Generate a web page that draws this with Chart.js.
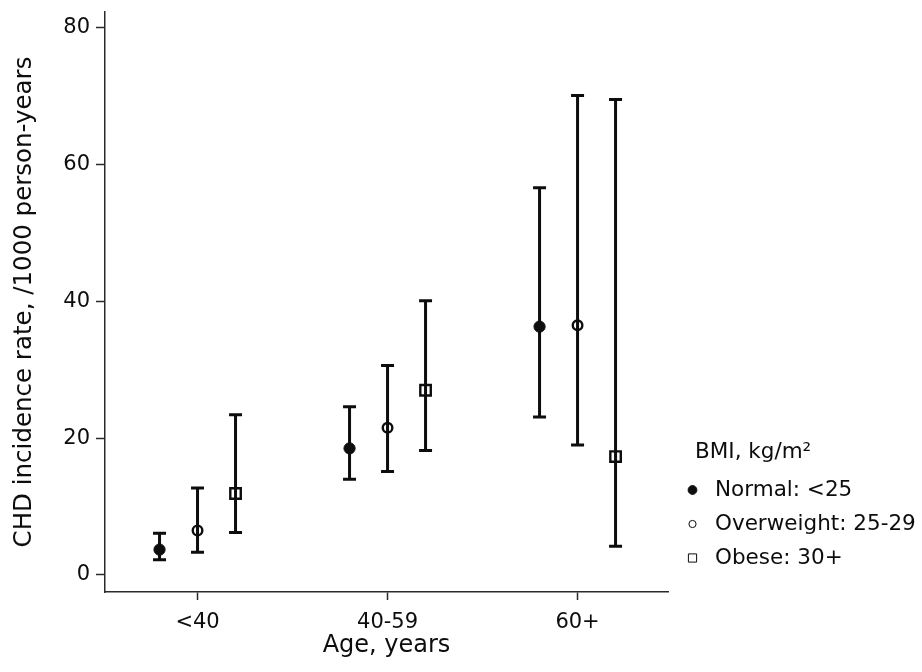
<!DOCTYPE html>
<html>
<head>
<meta charset="utf-8">
<script src="https://cdn.jsdelivr.net/npm/chart.js@4"></script>
<style>
  html, body { margin: 0; padding: 0; background: #ffffff; }
  canvas { display: block; }
</style>
</head>
<body>
<canvas id="c" width="922" height="672"></canvas>
<script>
// ---- Data ----
const ageGroups = ['<40', '40-59', '60+'];
const bmiGroups = ['Normal: <25', 'Overweight: 25-29', 'Obese: 30+'];
const legendTitle = 'BMI, kg/m\u00B2';
const xTitle = 'Age, years';
const yTitle = 'CHD incidence rate, /1000 person-years';
const yTicks = [0, 20, 40, 60, 80];

const normalRate  = [3.7, 18.5, 36.3];
const normalLower = [2.2, 14.0, 23.1];
const normalUpper = [6.1, 24.6, 56.6];

const overweightRate  = [6.5, 21.5, 36.5];
const overweightLower = [3.3, 15.1, 19.0];
const overweightUpper = [12.7, 30.6, 70.1];

const obeseRate  = [11.9, 27.0, 17.3];
const obeseLower = [6.2, 18.2, 4.2];
const obeseUpper = [23.4, 40.1, 69.5];

// ---- Styling / layout ----
const FONT = 'DejaVu Sans';
const INK = '#0d0d0d';
const AXIS = '#2a2a2a';
const groupOffsets = [-0.2, 0, 0.2];

const rates = [normalRate, overweightRate, obeseRate];
const lowers = [normalLower, overweightLower, obeseLower];
const uppers = [normalUpper, overweightUpper, obeseUpper];
const pointStyles = [
  { pointStyle: 'circle', radius: 5.6, fill: INK, border: 1 },
  { pointStyle: 'circle', radius: 4.8, fill: 'rgba(0,0,0,0)', border: 2.4 },
  { pointStyle: 'rect', radius: 7.4, fill: 'rgba(0,0,0,0)', border: 2.4 }
];

const datasets = bmiGroups.map((name, i) => ({
  label: name,
  data: rates[i].map((v, j) => ({ x: j + 1 + groupOffsets[i], y: v })),
  pointStyle: pointStyles[i].pointStyle,
  pointRadius: pointStyles[i].radius,
  pointHoverRadius: pointStyles[i].radius,
  pointBackgroundColor: pointStyles[i].fill,
  pointBorderColor: INK,
  pointBorderWidth: pointStyles[i].border,
  showLine: false
}));

const errorBars = {
  id: 'errorBars',
  beforeDatasetsDraw(chart) {
    const ctx = chart.ctx;
    const ys = chart.scales.y;
    ctx.save();
    ctx.strokeStyle = INK;
    ctx.lineWidth = 3;
    ctx.lineCap = 'butt';
    chart.data.datasets.forEach((ds, i) => {
      const meta = chart.getDatasetMeta(i);
      meta.data.forEach((pt, j) => {
        const x = pt.x;
        const yl = ys.getPixelForValue(lowers[i][j]);
        const yu = ys.getPixelForValue(uppers[i][j]);
        ctx.beginPath();
        ctx.moveTo(x, yl); ctx.lineTo(x, yu);
        ctx.moveTo(x - 6.5, yl); ctx.lineTo(x + 6.5, yl);
        ctx.moveTo(x - 6.5, yu); ctx.lineTo(x + 6.5, yu);
        ctx.stroke();
      });
    });
    ctx.restore();
  }
};

const customLegend = {
  id: 'customLegend',
  afterDraw(chart) {
    const ctx = chart.ctx;
    ctx.save();
    ctx.fillStyle = INK;
    ctx.font = '21.5px "' + FONT + '"';
    ctx.textBaseline = 'middle';
    ctx.textAlign = 'left';
    ctx.fillText(legendTitle, 695, 452);
    const rowsY = [490, 524, 558];
    const legendMarkers = [
      { style: 'circle', r: 4.4, fill: true, lw: 1 },
      { style: 'circle', r: 3.6, fill: false, lw: 2 },
      { style: 'rect', r: 5.8, fill: false, lw: 2 }
    ];
    chart.data.datasets.forEach((ds, i) => {
      const m = legendMarkers[i];
      ctx.fillStyle = m.fill ? INK : 'rgba(0,0,0,0)';
      ctx.strokeStyle = INK;
      Chart.helpers.drawPoint(ctx, { pointStyle: m.style, radius: m.r, borderWidth: m.lw, rotation: 0 }, 692.5, rowsY[i]);
      ctx.fillStyle = INK;
      ctx.fillText(ds.label, 715, rowsY[i]);
    });
    ctx.restore();
  }
};

new Chart(document.getElementById('c'), {
  type: 'scatter',
  data: { datasets },
  plugins: [errorBars, customLegend],
  options: {
    responsive: false,
    animation: false,
    events: [],
    layout: { padding: { left: 0, right: 254, top: 12, bottom: 0 } },
    plugins: {
      legend: { display: false },
      tooltip: { enabled: false }
    },
    scales: {
      x: {
        type: 'linear',
        min: 0.513,
        max: 3.476,
        afterBuildTicks(scale) { scale.ticks = ageGroups.map((_, i) => ({ value: i + 1 })); },
        afterFit(scale) { scale.height = 80; scale.paddingLeft = 0; scale.paddingRight = 0; },
        ticks: {
          callback: (v) => ageGroups[Math.round(v) - 1],
          color: INK,
          font: { family: FONT, size: 21 },
          padding: 10,
          maxRotation: 0,
          autoSkip: false
        },
        grid: { drawOnChartArea: false, drawTicks: true, tickLength: 8, tickColor: AXIS, tickWidth: 1.5 },
        border: { display: true, color: AXIS, width: 1.5 },
        title: { display: true, text: xTitle, color: INK, font: { family: FONT, size: 24 }, padding: { top: 0, bottom: 12 } }
      },
      y: {
        type: 'linear',
        min: -2.5,
        max: 82.3,
        afterBuildTicks(scale) { scale.ticks = yTicks.map(v => ({ value: v })); },
        afterFit(scale) { scale.width = 105; scale.paddingTop = 0; scale.paddingBottom = 0; },
        ticks: {
          color: INK,
          font: { family: FONT, size: 21 },
          padding: 6
        },
        grid: { drawOnChartArea: false, drawTicks: true, tickLength: 9, tickColor: AXIS, tickWidth: 1.5 },
        border: { display: true, color: AXIS, width: 1.5 },
        title: { display: true, text: yTitle, color: INK, font: { family: FONT, size: 24.5 }, padding: { top: 10, bottom: 0 } }
      }
    }
  }
});
</script>
</body>
</html>
